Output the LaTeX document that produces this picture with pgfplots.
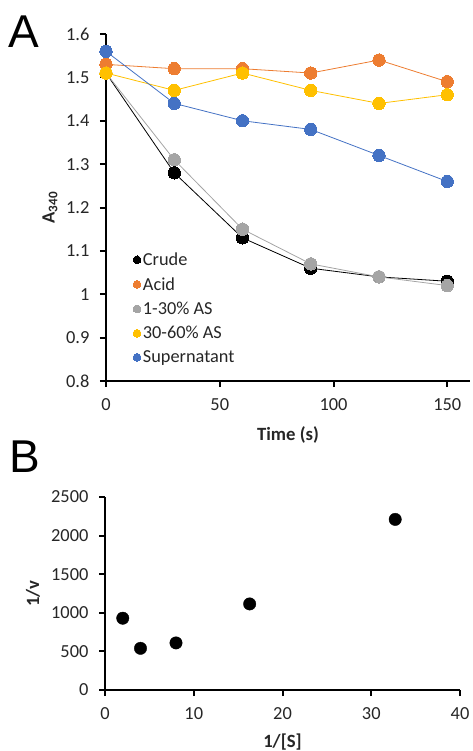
\documentclass[border=0pt]{standalone}
\usepackage{pgfplots}
\pgfplotsset{compat=1.18}
\usepackage{fontspec}
\setmainfont{Carlito}
\newfontfamily\panelfont{Liberation Sans}
\definecolor{xblue}{HTML}{4472C4}
\definecolor{xorange}{HTML}{ED7D31}
\definecolor{xgray}{HTML}{A5A5A5}
\definecolor{xgold}{HTML}{FFC000}
\pgfplotsset{
  excelaxis/.style={
    scale only axis,
    axis x line=bottom, axis y line=left,
    axis line style={-, line width=2.2pt, black},
    tick align=outside,
    major tick length=6pt,
    tick style={line width=2pt, black},
    /pgf/number format/assume math mode=true,
    ticklabel style={font=\fontsize{18.4}{21}\selectfont, text=black!85},
    xticklabel style={yshift=-8pt},
    yticklabel style={xshift=-7pt},
    label style={font=\fontsize{18.7}{21}\selectfont\bfseries, text=black!85},
    clip=false,
  },
  ser/.style={line width=0.8pt, color=#1, mark=*, mark size=6.2pt, mark options={fill=#1, draw=#1, line width=0pt}},
}
\begin{document}
\begin{tikzpicture}
\useasboundingbox (0pt,0pt) rectangle (473pt,-751pt);
\node[anchor=base west, inner sep=0pt, font=\fontsize{46}{50}\selectfont\panelfont] at (8pt,-48pt) {A};
\node[anchor=base west, inner sep=0pt, font=\fontsize{46}{50}\selectfont\panelfont] at (9pt,-472pt) {B};
\begin{axis}[excelaxis,
  at={(106pt,-381pt)}, anchor=south west,
  width=364pt, height=347pt,
  xmin=0, xmax=160, ymin=0.8, ymax=1.6,
  xtick={0,50,100,150},
  ytick={0.8,0.9,1,1.1,1.2,1.3,1.4,1.5,1.6},
  yticklabel style={/pgf/number format/fixed, /pgf/number format/precision=1},
  xlabel={Time (s)},
  ylabel={A\textsubscript{340}},
  xlabel style={at={(axis description cs:0.5,-0.1556)}, anchor=center},
  ylabel style={at={(axis description cs:-0.154,0.5)}, anchor=center},
  legend style={draw=none, fill=none, at={(0.074,0.376)}, anchor=north west,
    font=\fontsize{18.3}{21}\selectfont, text=black!85, row sep=6.4pt,
    inner sep=0pt, cells={anchor=west}},
  legend image code/.code={\draw[#1, mark size=3.9pt] plot coordinates {(0pt,0pt)};},
]
\addplot[ser=black] coordinates {(0,1.51) (30,1.28) (60,1.13) (90,1.06) (120,1.04) (150,1.03)};
\addlegendentry{Crude}
\addplot[ser=xorange] coordinates {(0,1.53) (30,1.52) (60,1.52) (90,1.51) (120,1.54) (150,1.49)};
\addlegendentry{Acid}
\addplot[ser=xgray] coordinates {(0,1.51) (30,1.31) (60,1.15) (90,1.07) (120,1.04) (150,1.02)};
\addlegendentry{1-30\% AS}
\addplot[ser=xgold] coordinates {(0,1.51) (30,1.47) (60,1.51) (90,1.47) (120,1.44) (150,1.46)};
\addlegendentry{30-60\% AS}
\addplot[ser=xblue] coordinates {(0,1.56) (30,1.44) (60,1.40) (90,1.38) (120,1.32) (150,1.26)};
\addlegendentry{Supernatant}
\end{axis}
\begin{axis}[excelaxis,
  at={(105pt,-690pt)}, anchor=south west,
  width=355pt, height=193pt,
  xmin=0, xmax=40, ymin=0, ymax=2500,
  xtick={0,10,20,30,40},
  ytick={0,500,1000,1500,2000,2500},
  yticklabel style={/pgf/number format/1000 sep={}},
  xlabel={1/[S]},
  ylabel={1/v},
  xlabel style={at={(axis description cs:0.5,-0.269)}, anchor=center},
  ylabel style={at={(axis description cs:-0.203,0.5)}, anchor=center},
]
\addplot[only marks, mark=*, mark size=6.2pt, black] coordinates {(2,930) (4,540) (8,610) (16.3,1115) (32.7,2210)};
\end{axis}
\end{tikzpicture}
\end{document}
